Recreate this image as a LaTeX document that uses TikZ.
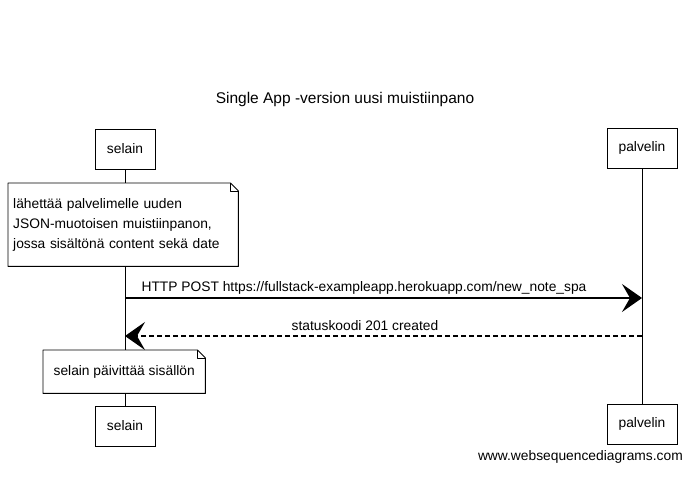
\documentclass[tikz,border=0pt]{standalone}
\usepackage{fontspec}
\setmainfont{Liberation Sans}
\usetikzlibrary{arrows.meta}
\tikzset{
  actor/.style={draw, line width=0.9pt, fill=white, minimum width=60pt, minimum height=40pt, inner sep=0pt, font=\fontsize{13.8}{16}\selectfont},
  notebox/.style={fill=white, inner sep=5pt, align=left, font=\fontsize{13.8}{20}\selectfont},
  noteline/.style={line width=0.9pt, line join=round},
  life/.style={line width=0.7pt},
  msg/.style={line width=1.1pt, -{Stealth[length=20pt,width=28pt,inset=8pt]}},
  reply/.style={msg, dash pattern=on 5pt off 3pt},
  lbl/.style={font=\fontsize{13.8}{16}\selectfont, inner sep=1pt}
}
\begin{document}
\begin{tikzpicture}[x=1pt,y=-1pt]
\useasboundingbox (0,0) rectangle (691,485);
\node[font=\fontsize{15.5}{18}\selectfont] (title) at (345,99) {Single App -version uusi muistiinpano};
% participants
\node[actor] (s1) at (125,149) {selain};
\node[actor, minimum width=70pt] (p1) at (642,148) {palvelin};
\node[actor] (s2) at (125,426) {selain};
\node[actor, minimum width=70pt] (p2) at (642,424) {palvelin};
% lifelines
\draw[life] (s1.south) -- (s2.north);
\draw[life] (p1.south) -- (p2.north);
% note 1
\node[notebox, minimum width=230pt, minimum height=83pt, anchor=north west, text width=220pt] (n1) at (8,183)
  {lähettää palvelimelle uuden\\JSON-muotoisen muistiinpanon,\\jossa sisältönä content sekä date};
\draw[noteline] (n1.north west) -- ([xshift=-8pt]n1.north east) -- ([yshift=-8pt]n1.north east) -- (n1.south east) -- (n1.south west) -- cycle;
\draw[noteline] ([xshift=-8pt]n1.north east) -- ([xshift=-8pt,yshift=-8pt]n1.north east) -- ([yshift=-8pt]n1.north east);
% messages
\coordinate (m1s) at (s1.south |- 0,298);
\coordinate (m1e) at (p1.south |- 0,298);
\draw[msg] (m1s) -- (m1e);
\node[lbl] (l1) at (364,288) {HTTP POST https://fullstack-exampleapp.herokuapp.com/new\_note\_spa};
\coordinate (m2s) at (p1.south |- 0,336);
\coordinate (m2e) at (s1.south |- 0,336);
\draw[reply] (m2s) -- (m2e);
\node[lbl] (l2) at (365,326) {statuskoodi 201 created};
% note 2
\node[notebox, minimum width=162pt, minimum height=43pt, anchor=north west, align=center] (n2) at (43,350)
  {selain päivittää sisällön};
\draw[noteline] (n2.north west) -- ([xshift=-8pt]n2.north east) -- ([yshift=-8pt]n2.north east) -- (n2.south east) -- (n2.south west) -- cycle;
\draw[noteline] ([xshift=-8pt]n2.north east) -- ([xshift=-8pt,yshift=-8pt]n2.north east) -- ([yshift=-8pt]n2.north east);
% watermark
\node[anchor=east, font=\fontsize{13.8}{16}\selectfont, inner sep=0pt] (wm) at (683,457) {www.websequencediagrams.com};
\end{tikzpicture}
\end{document}
